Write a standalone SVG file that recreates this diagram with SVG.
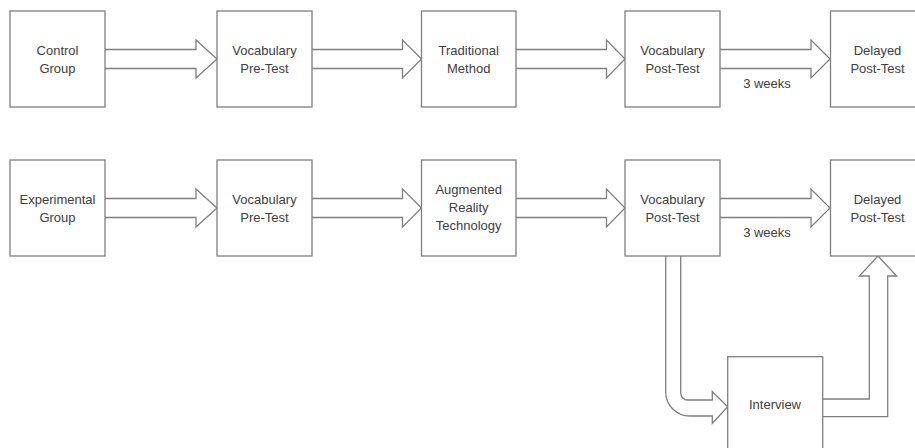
<svg xmlns="http://www.w3.org/2000/svg" width="915" height="448" viewBox="0 0 915 448">
<style>
.box{fill:#fff;stroke:#7f7f7f;stroke-width:1.3}
.arr{fill:#fff;stroke:#7f7f7f;stroke-width:1.3;stroke-linejoin:miter}
text{font-family:"Liberation Sans",Arial,sans-serif;font-size:13px;fill:#404040;text-anchor:middle}
</style>
<rect width="915" height="448" fill="#fff"/>
<g id="connectors">
<path class="arr" d="M105,49.5 H196 V40 L217,59 L196,78 V68.5 H105"/>
<path class="arr" d="M312,49.5 H402.5 V40 L421.5,59 L402.5,78 V68.5 H312"/>
<path class="arr" d="M516,49.5 H606.5 V40 L625,59 L606.5,78 V68.5 H516"/>
<path class="arr" d="M720,49.5 H811 V40 L830,59 L811,78 V68.5 H720"/>
<path class="arr" d="M105,198.5 H196 V189 L217,208 L196,227 V217.5 H105"/>
<path class="arr" d="M312,198.5 H402.5 V189 L421.5,208 L402.5,227 V217.5 H312"/>
<path class="arr" d="M516,198.5 H606.5 V189 L625,208 L606.5,227 V217.5 H516"/>
<path class="arr" d="M720,198.5 H811 V189 L830,208 L811,227 V217.5 H720"/>
<path class="arr" d="M665.7,256 V392 A24,24 0 0 0 689.7,416 H712.3 V423.3 L727.7,406.7 L712.3,391.5 V400 H687.7 A7,7 0 0 1 680.7,393 V256"/>
<path class="arr" d="M822.7,399 H869.3 V276 H859.3 L878,256 L896.7,276 H887.7 V416.7 H822.7"/>
<text x="767" y="87.5">3 weeks</text>
<text x="767" y="237">3 weeks</text>
</g>
<g id="control-group"><rect class="box" x="10" y="11" width="95" height="96"/><text x="57.5" y="54.5">Control</text><text x="57.5" y="72.5">Group</text></g>
<g id="pretest-1"><rect class="box" x="217" y="11" width="95" height="96"/><text x="264.5" y="54.5">Vocabulary</text><text x="264.5" y="72.5">Pre-Test</text></g>
<g id="traditional"><rect class="box" x="421.5" y="11" width="94.5" height="96"/><text x="468.7" y="54.5">Traditional</text><text x="468.7" y="72.5">Method</text></g>
<g id="posttest-1"><rect class="box" x="625" y="11" width="95" height="96"/><text x="672.5" y="54.5">Vocabulary</text><text x="672.5" y="72.5">Post-Test</text></g>
<g id="delayed-1"><rect class="box" x="830.5" y="11" width="95" height="96"/><text x="877.5" y="54.5">Delayed</text><text x="877.5" y="72.5">Post-Test</text></g>
<g id="experimental-group"><rect class="box" x="10" y="160" width="95" height="96"/><text x="57.5" y="203.5">Experimental</text><text x="57.5" y="221.5">Group</text></g>
<g id="pretest-2"><rect class="box" x="217" y="160" width="95" height="96"/><text x="264.5" y="203.5">Vocabulary</text><text x="264.5" y="221.5">Pre-Test</text></g>
<g id="ar-technology"><rect class="box" x="421.5" y="160" width="94.5" height="96"/><text x="468.7" y="194">Augmented</text><text x="468.7" y="212">Reality</text><text x="468.7" y="229.5">Technology</text></g>
<g id="posttest-2"><rect class="box" x="625" y="160" width="95" height="96"/><text x="672.5" y="203.5">Vocabulary</text><text x="672.5" y="221.5">Post-Test</text></g>
<g id="delayed-2"><rect class="box" x="830.5" y="160" width="95" height="96"/><text x="877.5" y="203.5">Delayed</text><text x="877.5" y="221.5">Post-Test</text></g>
<g id="interview"><rect class="box" x="727.7" y="356.7" width="95" height="96"/><text x="775" y="408.5">Interview</text></g>
</svg>
